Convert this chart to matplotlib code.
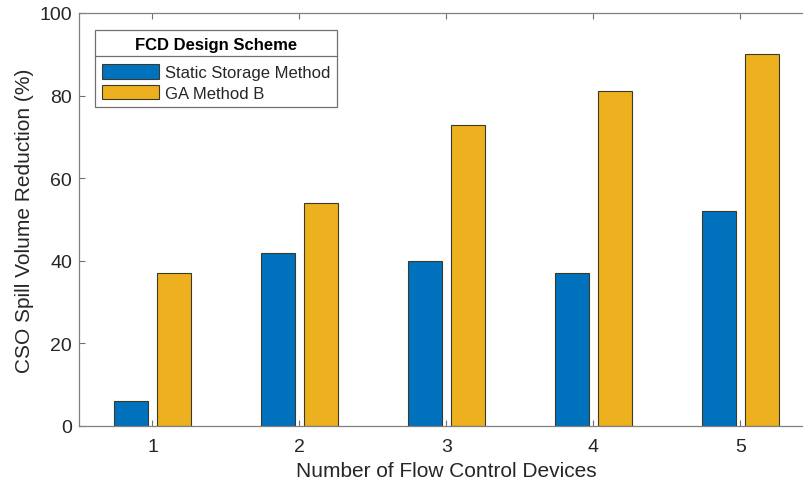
import matplotlib
matplotlib.use("Agg")
import matplotlib.pyplot as plt
import numpy as np
from matplotlib.lines import Line2D

categories = [1, 2, 3, 4, 5]
static_storage = [6, 42, 40, 37, 52]
ga_method_b = [37, 54, 73, 81, 90]
series_names = ["Static Storage Method", "GA Method B"]
yticks = [0, 20, 40, 60, 80, 100]

plt.rcParams['font.family'] = ['Liberation Sans', 'DejaVu Sans']

W, H = 804, 485
fig = plt.figure(figsize=(W / 100, H / 100), dpi=100)
fig.patch.set_facecolor('white')
ax = fig.add_axes([79 / W, 1 - 427 / H, (814 - 79) / W, (427 - 14) / H])

x = np.array(categories, dtype=float)
bw = 0.23
off = 0.145
edge = '#3a3a2a'
b1 = ax.bar(x - off, static_storage, bw, color='#0072BD', edgecolor=edge, linewidth=0.8,
            label=series_names[0])
b2 = ax.bar(x + off, ga_method_b, bw, color='#EDB120', edgecolor=edge, linewidth=0.8,
            label=series_names[1])

ax.set_xlim(0.5, 5.5)
ax.set_ylim(0, 100)
ax.set_xticks(categories)
ax.set_yticks(yticks)
ax.tick_params(direction='in', length=4, width=0.8, colors='#707070', labelcolor='#262626',
               labelsize=14, top=True, right=True)
ax.tick_params(axis='x', pad=9)
ax.tick_params(axis='y', pad=5)
for s in ax.spines.values():
    s.set_color('#808080')
    s.set_linewidth(0.9)

ax.set_xlabel("Number of Flow Control Devices", fontsize=15, color='#262626', labelpad=4)
ax.set_ylabel("CSO Spill Volume Reduction (%)", fontsize=15, color='#262626', labelpad=4)

leg = ax.legend(loc='upper left', bbox_to_anchor=((95 - 79) / (814 - 79), 1 - (31 - 14) / 413),
                title="FCD Design Scheme", fontsize=12,
                title_fontproperties={'weight': 'bold', 'size': 12},
                frameon=True, fancybox=False, edgecolor='#707070', framealpha=1,
                handlelength=3.45, handleheight=1.0, handletextpad=0.35,
                borderaxespad=0, borderpad=0.4, labelspacing=0.25)
leg.get_frame().set_linewidth(0.9)
for t in leg.get_texts():
    t.set_color('#262626')
leg._legend_box.sep = 9

fig.canvas.draw()
r = fig.canvas.get_renderer()
fb = leg.get_frame().get_window_extent(r)
tb = leg.get_title().get_window_extent(r)
ysep = tb.y0 - 4
line = Line2D([fb.x0, fb.x1], [ysep, ysep], transform=None, color='#707070', linewidth=0.9)
fig.add_artist(line)

fig.savefig("out.png", dpi=100, facecolor='white')
